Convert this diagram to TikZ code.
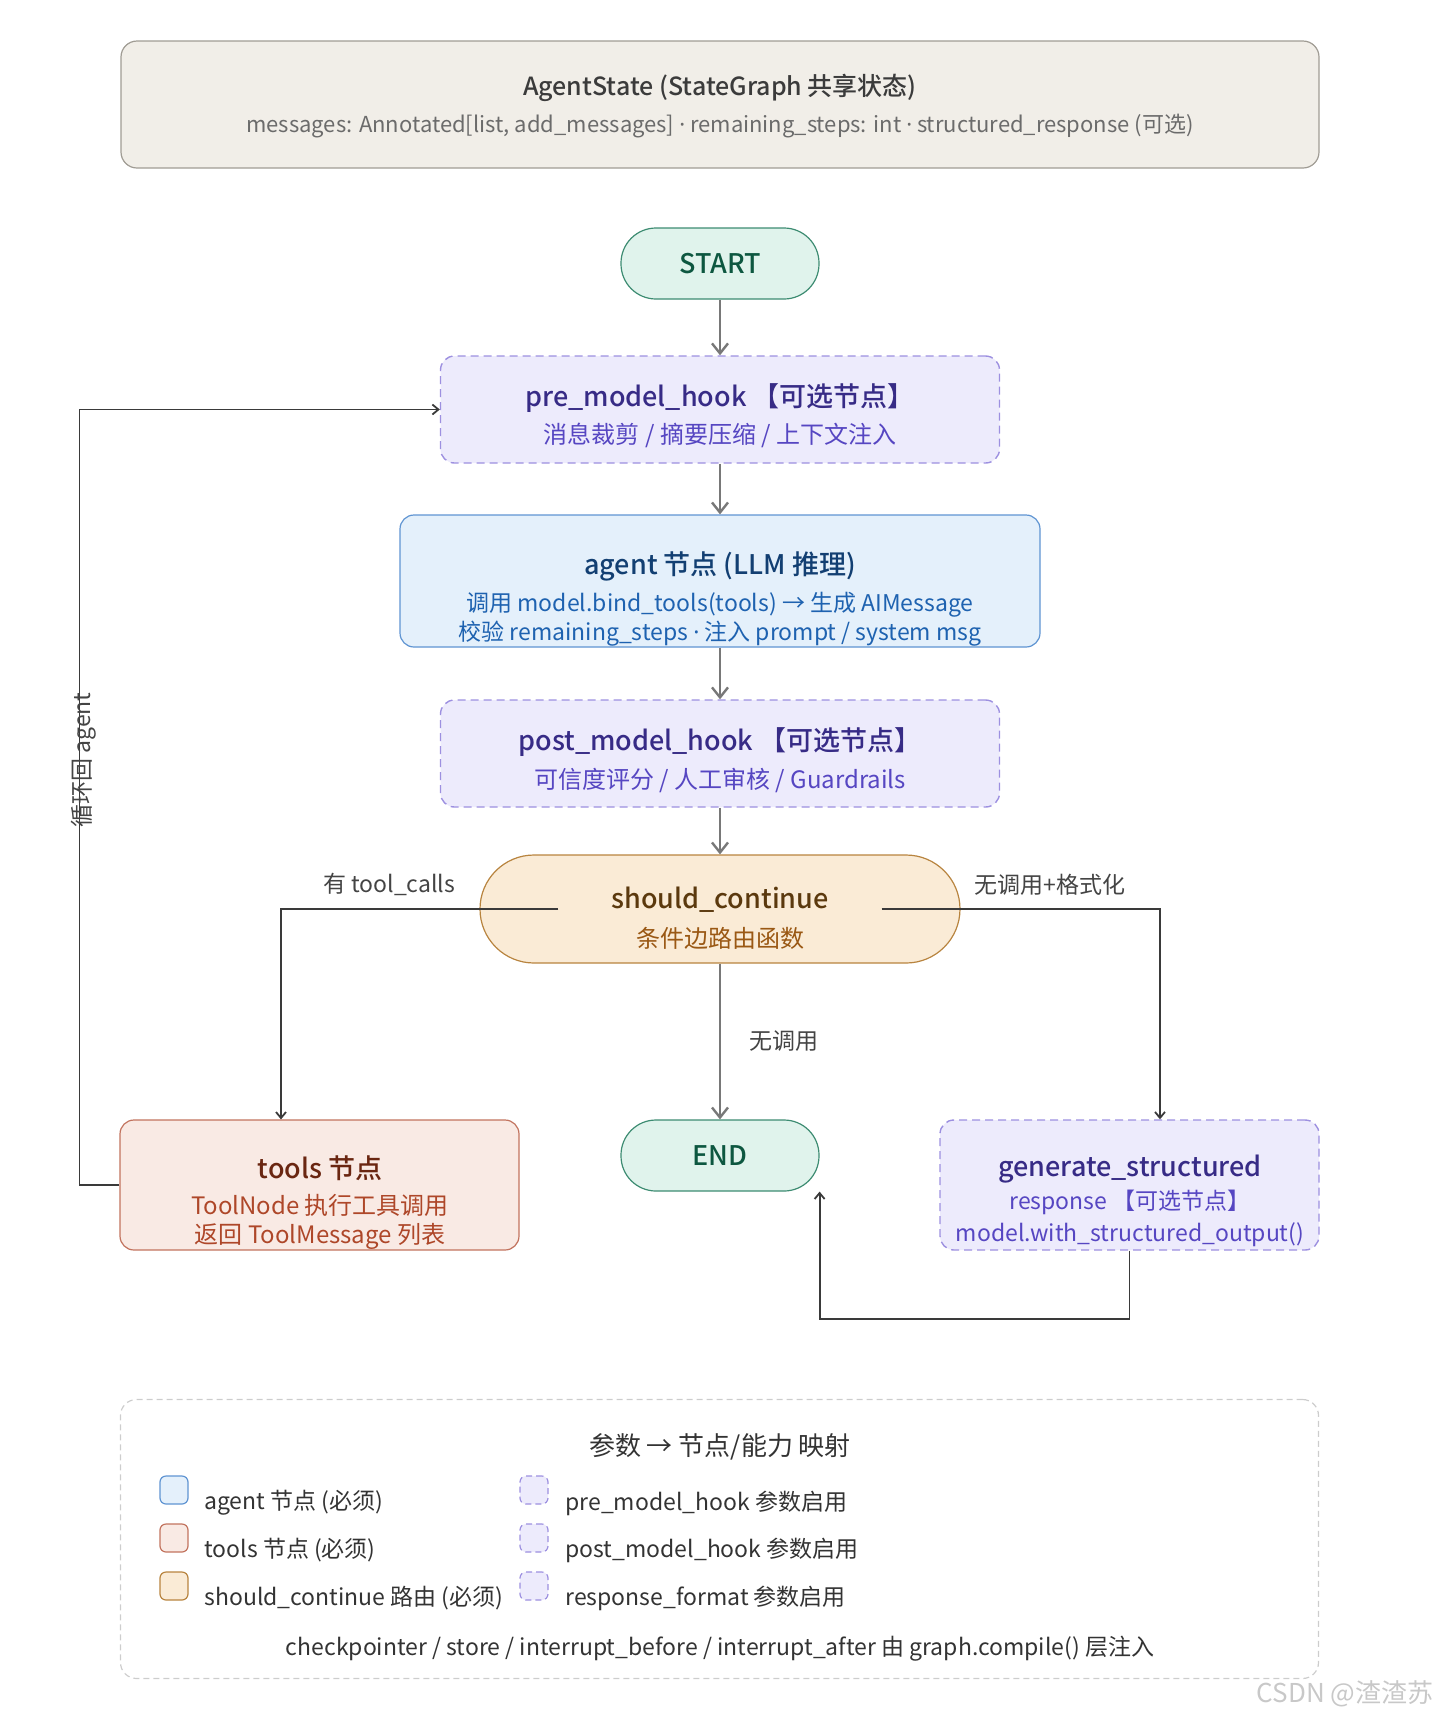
\documentclass[tikz,border=0pt]{standalone}
\usepackage{fontspec}
\setmainfont{Noto Sans CJK SC}[BoldFont={Noto Sans CJK SC Medium}]
\newfontfamily\latinfont{Noto Sans}
\usepackage{xcolor}
\usepackage{tikz}
\usetikzlibrary{arrows.meta,positioning,calc}
\newcommand{\middot}{{\latinfont ·}}
\definecolor{agInk}{HTML}{333333}
\definecolor{agLabel}{HTML}{444444}
\definecolor{agStateBg}{HTML}{F1EEE8}
\definecolor{agStateLine}{HTML}{A09C94}
\definecolor{agStateTitle}{HTML}{3B3B3B}
\definecolor{agStateSub}{HTML}{6B6B6B}
\definecolor{agTermBg}{HTML}{E0F3EC}
\definecolor{agTermLine}{HTML}{3D8C72}
\definecolor{agTermText}{HTML}{0D5740}
\definecolor{agHookBg}{HTML}{EDEBFC}
\definecolor{agHookLine}{HTML}{9D90E0}
\definecolor{agHookTitle}{HTML}{372B86}
\definecolor{agHookSub}{HTML}{5646C2}
\definecolor{agAgentBg}{HTML}{E4F0FB}
\definecolor{agAgentLine}{HTML}{5F94D2}
\definecolor{agAgentTitle}{HTML}{123F72}
\definecolor{agAgentSub}{HTML}{1E62B0}
\definecolor{agCondBg}{HTML}{FAEBD6}
\definecolor{agCondLine}{HTML}{B8843F}
\definecolor{agCondTitle}{HTML}{5B390E}
\definecolor{agCondSub}{HTML}{9A5814}
\definecolor{agToolBg}{HTML}{F9EAE4}
\definecolor{agToolLine}{HTML}{C2735E}
\definecolor{agToolTitle}{HTML}{6A2611}
\definecolor{agToolSub}{HTML}{AE4729}
\definecolor{agFlow}{HTML}{787878}
\definecolor{agLink}{HTML}{3A3A3A}
\definecolor{agLegLine}{HTML}{CDCDCD}
\definecolor{agMark}{HTML}{C8C8C8}
\tikzset{
  statebox/.style={rectangle,rounded corners=8pt,
    minimum width=599pt,minimum height=63.5pt,
    draw=agStateLine,fill=agStateBg,line width=0.6pt},
  termbox/.style={rectangle,rounded corners=17.5pt,
    minimum width=99pt,minimum height=35.5pt,
    draw=agTermLine,fill=agTermBg,line width=0.6pt,
    font=\fontsize{13.5}{16}\selectfont\bfseries,text=agTermText},
  hookbox/.style={rectangle,rounded corners=7pt,
    draw=agHookLine,fill=agHookBg,line width=0.7pt,
    dash pattern=on 4pt off 2.5pt},
  agentbox/.style={rectangle,rounded corners=7pt,
    draw=agAgentLine,fill=agAgentBg,line width=0.6pt},
  condbox/.style={rectangle,rounded corners=27pt,
    minimum width=240pt,minimum height=54pt,
    draw=agCondLine,fill=agCondBg,line width=0.6pt},
  toolbox/.style={rectangle,rounded corners=7pt,
    draw=agToolLine,fill=agToolBg,line width=0.6pt},
  ttl/.style={font=\fontsize{13.5}{16}\selectfont\bfseries,inner sep=0pt},
  subtxt/.style={font=\fontsize{12}{14.5}\selectfont,align=center,inner sep=0pt},
  legbox/.style={rectangle,rounded corners=8pt,
    minimum width=599pt,minimum height=139.5pt,
    draw=agLegLine,line width=0.6pt,dash pattern=on 3pt off 2pt},
  swatch/.style={rectangle,rounded corners=3pt,minimum size=14pt,
    inner sep=0pt,line width=0.6pt},
  legtxt/.style={font=\fontsize{11.5}{14}\selectfont,text=agInk,
    anchor=west,inner sep=0pt},
  flow/.style={-{Straight Barb[length=5pt,width=8pt]},line width=1.2pt,color=agFlow},
  link/.style={-{Straight Barb[length=3pt,width=5pt]},line width=0.9pt,color=agLink},
  lbl/.style={font=\fontsize{11.5}{14}\selectfont,text=agLabel},
}
\begin{document}
\begin{tikzpicture}[x=0.5pt,y=-0.5pt]
  \useasboundingbox (0,0) rectangle (1440,1720);

  % Shared state banner
  \node[statebox] (state) at (720,104.5) {};
  \node[ttl,font=\fontsize{12.5}{15}\selectfont\bfseries,text=agStateTitle]
    (stateT) at (720,88) {AgentState (StateGraph 共享状态)};
  \node[subtxt,font=\fontsize{11}{13}\selectfont,text=agStateSub] (stateS) at (720,126)
    {messages: Annotated[list, add\_messages] \middot{} remaining\_steps: int \middot{} structured\_response (可选)};

  % Main chain
  \node[termbox] (start) at (720,263.5) {START};

  \node[hookbox,minimum width=279.5pt,minimum height=53.5pt] (pre) at (720,409.5) {};
  \node[ttl,text=agHookTitle] (preT) at (720,398) {pre\_model\_hook 【可选节点】};
  \node[subtxt,text=agHookSub] (preS) at (720,435) {消息裁剪 / 摘要压缩 / 上下文注入};

  \node[agentbox,minimum width=320pt,minimum height=66pt] (agent) at (720,581) {};
  \node[ttl,text=agAgentTitle] (agentT) at (720,566) {agent 节点 (LLM 推理)};
  \node[subtxt,font=\fontsize{11.5}{14.5}\selectfont,text=agAgentSub] (agentS) at (720,619.5)
    {调用 model.bind\_tools(tools) → 生成 AIMessage\\
     校验 remaining\_steps \middot{} 注入 prompt / system msg};

  \node[hookbox,minimum width=279.5pt,minimum height=53.5pt] (post) at (720,753.5) {};
  \node[ttl,text=agHookTitle] (postT) at (720,742) {post\_model\_hook 【可选节点】};
  \node[subtxt,text=agHookSub] (postS) at (720,780) {可信度评分 / 人工审核 / Guardrails};

  \node[condbox] (sc) at (720,909) {};
  \node[ttl,text=agCondTitle] (scT) at (720,900) {should\_continue};
  \node[subtxt,text=agCondSub] (scS) at (720,938) {条件边路由函数};

  % Branch targets
  \node[toolbox,minimum width=199.5pt,minimum height=65pt] (tools) at (319.5,1185) {};
  \node[ttl,text=agToolTitle] (toolsT) at (320,1168) {tools 节点};
  \node[subtxt,text=agToolSub] (toolsS) at (320,1221.5)
    {ToolNode 执行工具调用\\返回 ToolMessage 列表};

  \node[termbox] (end) at (720,1155.5) {END};

  \node[hookbox,minimum width=189.5pt,minimum height=65pt] (gen) at (1129.5,1185) {};
  \node[ttl,text=agHookTitle] (genT) at (1130,1169) {generate\_structured};
  \node[subtxt,font=\fontsize{11.5}{16}\selectfont,text=agHookSub] (genS) at (1130,1218)
    {response 【可选节点】\\model.with\_structured\_output()};

  % Edges
  \draw[flow] (start) -- (pre);
  \draw[flow] (pre) -- (agent);
  \draw[flow] (agent) -- (post);
  \draw[flow] (post) -- (sc);
  \draw[flow] (sc) -- node[lbl,right=11pt] {无调用} (end);

  \coordinate (scL) at ([xshift=39.5pt]sc.west);
  \coordinate (scR) at ([xshift=-39.5pt]sc.east);
  \draw[link] (scL) -| node[lbl,pos=0.305,above=3pt] {有 tool\_calls}
    ([xshift=-19.25pt]tools.north);
  \draw[link] (scR) -| node[lbl,pos=0.303,above=3pt] {无调用+格式化}
    ([xshift=15.25pt]gen.north);
  \draw[link] (tools.west) -- ++(-40,0)
    |- node[lbl,pos=0.274,rotate=90,yshift=-2pt] {循环回 agent} (pre.west);
  \draw[link] (gen.south) -- ++(0,68) -| (end.south east);

  % Legend
  \node[legbox] (leg) at (719.5,1539) {};
  \node[font=\fontsize{13}{16}\selectfont,text=agInk] (legT) at (720,1447)
    {参数 → 节点/能力 映射};
  \node[swatch,draw=agAgentLine,fill=agAgentBg] (sw1) at (174,1490) {};
  \node[legtxt] (lt1) at (204,1503) {agent 节点 (必须)};
  \node[swatch,draw=agToolLine,fill=agToolBg] (sw2) at (174,1538) {};
  \node[legtxt] (lt2) at (204,1550) {tools 节点 (必须)};
  \node[swatch,draw=agCondLine,fill=agCondBg] (sw3) at (174,1586) {};
  \node[legtxt] (lt3) at (204,1598) {should\_continue 路由 (必须)};
  \node[swatch,draw=agHookLine,fill=agHookBg,dash pattern=on 3pt off 2pt] (sw4) at (534,1490) {};
  \node[legtxt] (lt4) at (565,1503) {pre\_model\_hook 参数启用};
  \node[swatch,draw=agHookLine,fill=agHookBg,dash pattern=on 3pt off 2pt] (sw5) at (534,1538) {};
  \node[legtxt] (lt5) at (565,1550) {post\_model\_hook 参数启用};
  \node[swatch,draw=agHookLine,fill=agHookBg,dash pattern=on 3pt off 2pt] (sw6) at (534,1586) {};
  \node[legtxt] (lt6) at (565,1598) {response\_format 参数启用};
  \node[font=\fontsize{11.5}{14}\selectfont,text=agInk] (legB) at (720,1649)
    {checkpointer / store / interrupt\_before / interrupt\_after 由 graph.compile() 层注入};

  \node[font=\fontsize{13}{15}\selectfont,text=agMark] (mark) at (1345,1694) {CSDN @渣渣苏};
\end{tikzpicture}
\end{document}
